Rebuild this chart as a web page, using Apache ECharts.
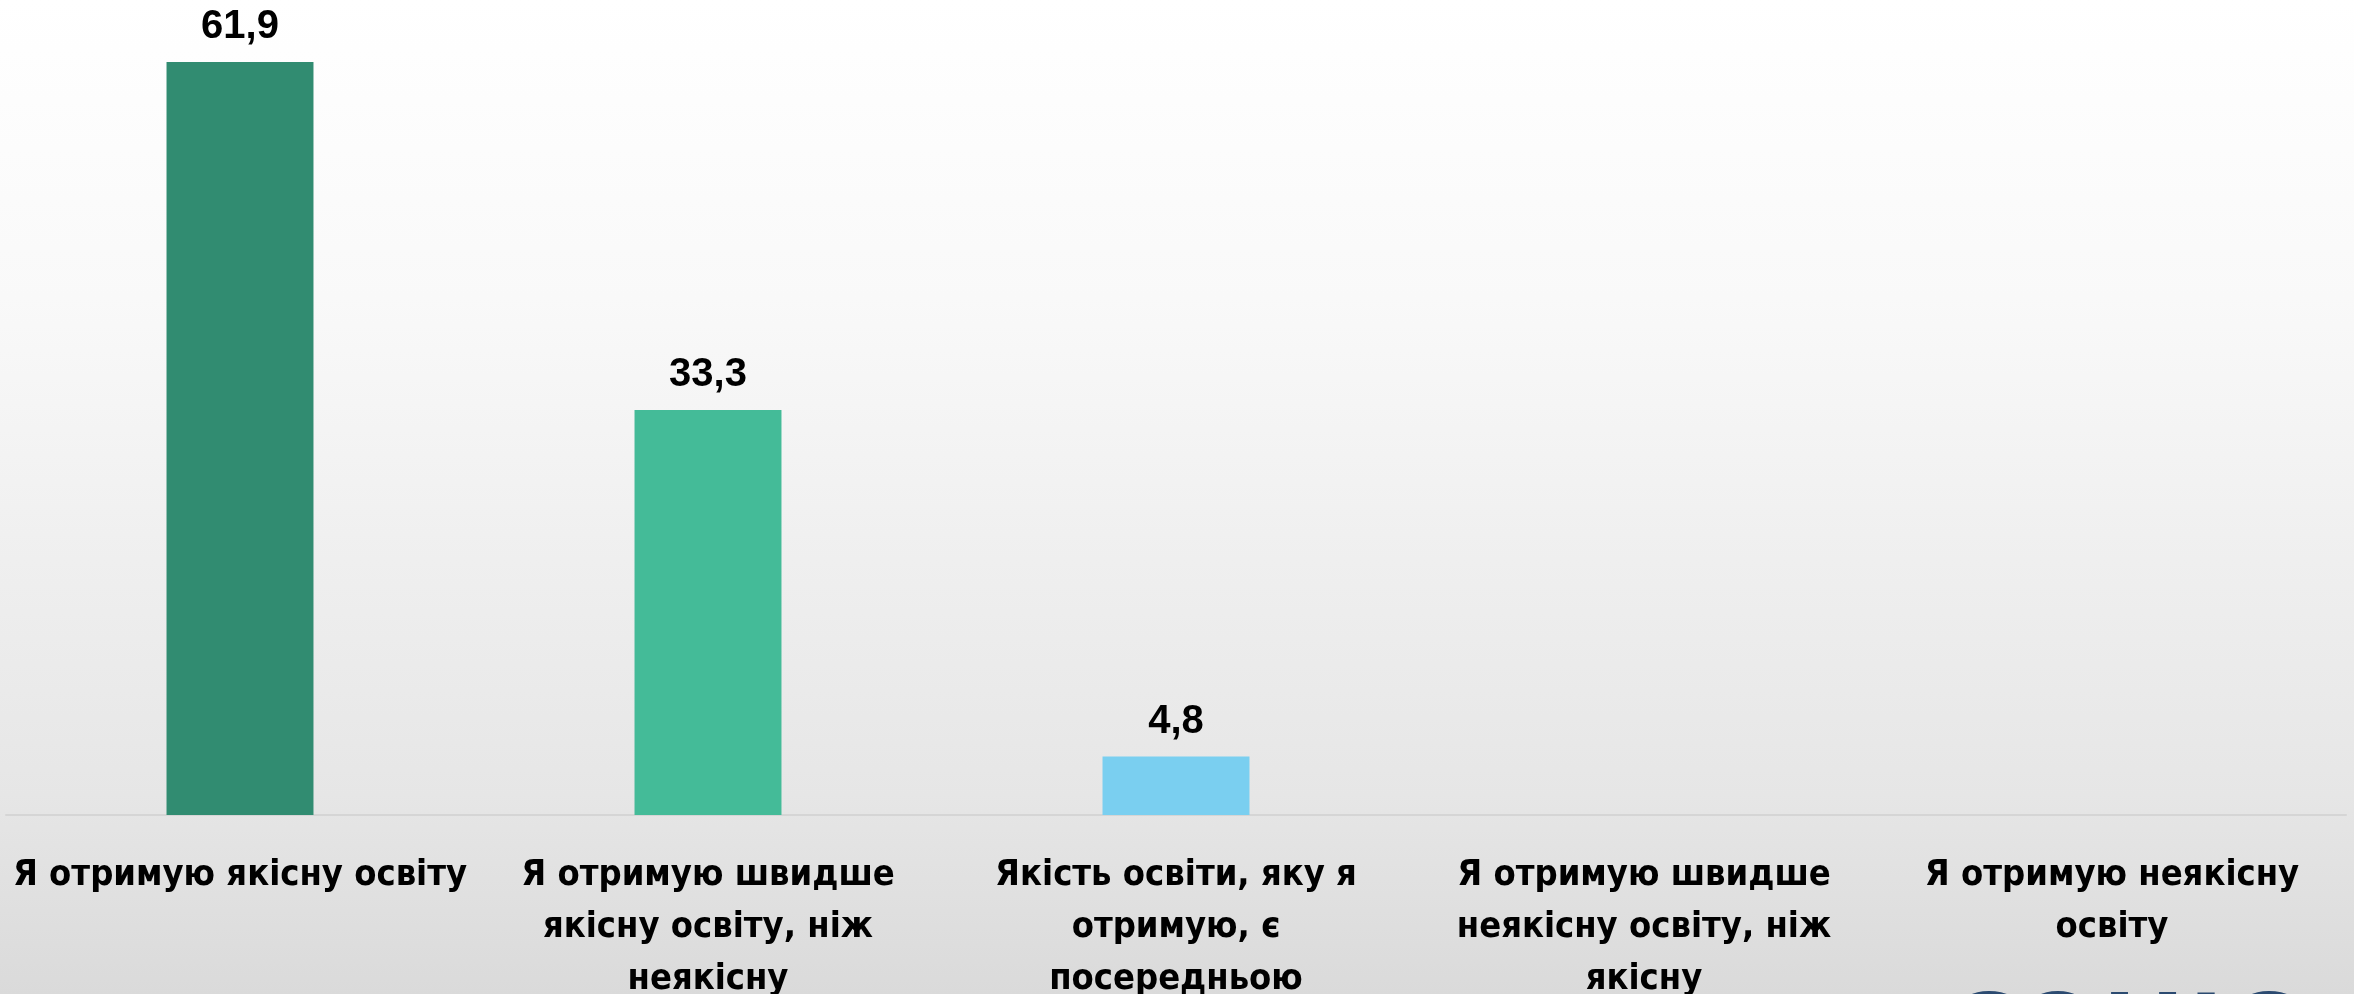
<!DOCTYPE html>
<html>
<head>
<meta charset="utf-8">
<style>
  html, body { margin: 0; padding: 0; width: 2354px; height: 994px; overflow: hidden; }
  #chart { width: 2354px; height: 994px; }
</style>
<script src="https://cdn.jsdelivr.net/npm/echarts@6/dist/echarts.min.js"></script>
</head>
<body>
<div id="chart"></div>
<script>
const categories = [
  "Я отримую якісну освіту",
  "Я отримую швидше\nякісну освіту, ніж\nнеякісну",
  "Якість освіти, яку я\nотримую, є\nпосередньою",
  "Я отримую швидше\nнеякісну освіту, ніж\nякісну",
  "Я отримую неякісну\nосвіту"
];
const values = [61.9, 33.3, 4.8, 0, 0];
const barColors = ["#318C71", "#44BB98", "#7ACFF0", "#44BB98", "#318C71"];

const chart = echarts.init(document.getElementById('chart'), null, { renderer: 'canvas' });

const catFont = '"Liberation Sans Narrow", "DejaVu Sans Condensed", "Liberation Sans", sans-serif';

chart.setOption({
  animation: false,
  backgroundColor: {
    type: 'linear', x: 0, y: 0, x2: 0, y2: 1,
    colorStops: [
      { offset: 0, color: '#ffffff' },
      { offset: 0.3, color: '#f9f9f9' },
      { offset: 0.8, color: '#e6e6e6' },
      { offset: 1, color: '#dadada' }
    ]
  },
  grid: { left: 6, right: 8, top: 0, bottom: 179, containLabel: false, outerBoundsMode: 'none' },
  xAxis: {
    type: 'category',
    data: categories,
    axisLine: { show: true, lineStyle: { color: '#d5d5d5', width: 2 } },
    axisTick: { show: false },
    axisLabel: {
      interval: 0,
      margin: 35,
      color: '#000000',
      fontFamily: catFont,
      fontWeight: 'bold',
      fontSize: 36,
      lineHeight: 52,
      align: 'center',
      hideOverlap: false
    }
  },
  yAxis: {
    type: 'value',
    min: 0,
    max: 67,
    show: false,
    splitLine: { show: false }
  },
  series: [{
    type: 'bar',
    data: values.map((v, i) => ({ value: v, itemStyle: { color: barColors[i] } })),
    barWidth: '31.4%',
    label: {
      show: true,
      position: 'top',
      distance: 15,
      color: '#000000',
      fontFamily: '"Liberation Sans", Arial, sans-serif',
      fontWeight: 'bold',
      fontSize: 40,
      lineHeight: 40,
      formatter: p => p.value ? p.value.toFixed(1).replace('.', ',') : ''
    }
  }],
  graphic: [{
    type: 'text',
    left: 1944,
    top: 984,
    style: {
      text: 'СОЦІС',
      fill: '#2B4A70',
      font: 'bold 112px "Noto Sans", sans-serif'
    }
  }]
});
</script>
</body>
</html>
